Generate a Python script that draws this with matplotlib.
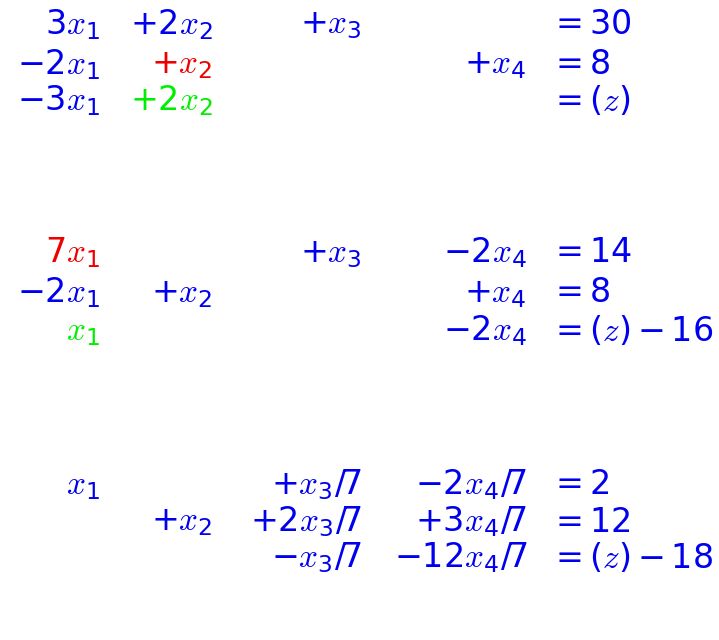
import matplotlib
matplotlib.use("Agg")
import matplotlib.pyplot as plt

plt.rcParams['mathtext.fontset'] = 'custom'
plt.rcParams['mathtext.rm'] = 'DejaVu Sans'
plt.rcParams['mathtext.it'] = 'cmmi10'
plt.rcParams['mathtext.cal'] = 'cmsy10'

B, R, G = '#0000ee', '#ee0000', '#00ee00'

# three tableaux, each row: 4 term cells + right-hand side, with colours
rows = [
    [(r'$3x_1$', B), (r'$+2x_2$', B), (r'$+x_3$', B), ('', B), (r'$=30$', B)],
    [(r'$-2x_1$', B), (r'$+x_2$', R), ('', B), (r'$+x_4$', B), (r'$=8$', B)],
    [(r'$-3x_1$', B), (r'$+2x_2$', G), ('', B), ('', B), (r'$=(z)$', B)],
    [(r'$7x_1$', R), ('', B), (r'$+x_3$', B), (r'$-2x_4$', B), (r'$=14$', B)],
    [(r'$-2x_1$', B), (r'$+x_2$', B), ('', B), (r'$+x_4$', B), (r'$=8$', B)],
    [(r'$x_1$', G), ('', B), ('', B), (r'$-2x_4$', B), (r'$=(z)-16$', B)],
    [(r'$x_1$', B), ('', B), (r'$+x_3/7$', B), (r'$-2x_4/7$', B), (r'$=2$', B)],
    [('', B), (r'$+x_2$', B), (r'$+2x_3/7$', B), (r'$+3x_4/7$', B), (r'$=12$', B)],
    [('', B), ('', B), (r'$-x_3/7$', B), (r'$-12x_4/7$', B), (r'$=(z)-18$', B)],
]
row_y = [25, 65, 101, 253, 293, 331, 485, 522, 558]
col_x = [100, 213, 362, 527, 550]

fig = plt.figure(figsize=(7.19, 6.4), dpi=100)
ax = fig.add_axes([0, 0, 1, 1])
ax.set_xlim(0, 719)
ax.set_ylim(640, 0)
ax.axis('off')

for y, row in zip(row_y, rows):
    for i, (txt, c) in enumerate(row):
        if not txt:
            continue
        ha = 'left' if i == 4 else 'right'
        ax.text(col_x[i], y, txt, color=c, fontsize=24, ha=ha, va='center')

fig.savefig('out.png', dpi=100)
